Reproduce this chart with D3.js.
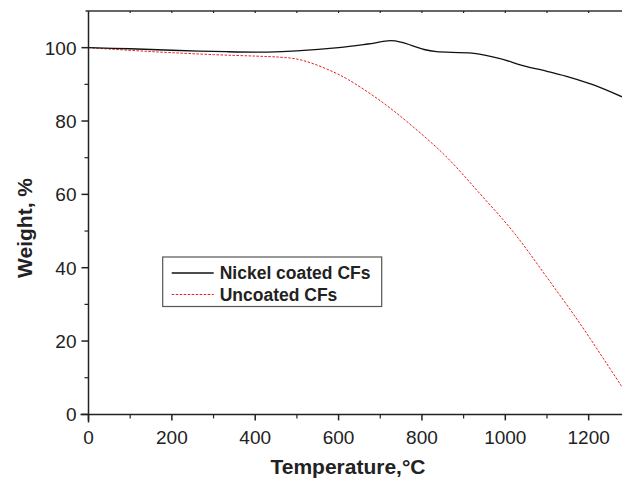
<!DOCTYPE html>
<html>
<head>
<meta charset="utf-8">
<script src="https://cdn.jsdelivr.net/npm/d3@7"></script>
<style>
body { margin: 0; background: white; }
text { font-family: "Liberation Sans", Arial, sans-serif; }
</style>
</head>
<body>
<div id="chart"></div>
<script>
// TGA curves
var nickelTemp = [0, 100, 200, 330, 430, 500, 600, 670, 725, 750, 805, 835, 920, 985, 1040, 1105, 1155, 1210, 1280];
var nickelWeight = [100, 99.7, 99.3, 98.9, 98.8, 99.1, 100, 101, 101.9, 101.5, 99.5, 98.9, 98.5, 97.1, 95.2, 93.4, 91.9, 89.9, 86.6];
var uncoatedTemp = [0, 140, 300, 400, 460, 500, 540, 587, 623, 704, 779, 859, 939, 1019, 1099, 1179, 1243, 1280];
var uncoatedWeight = [100, 99.0, 98.1, 97.7, 97.4, 96.9, 95.6, 93.4, 91.3, 85.2, 78.4, 70.2, 60.2, 49.8, 37.5, 24.8, 13.9, 7.5];
var xTicks = [0, 200, 400, 600, 800, 1000, 1200];
var yTicks = [0, 20, 40, 60, 80, 100];
var seriesNames = ["Nickel coated CFs", "Uncoated CFs"];

var width = 622, height = 479;
var svg = d3.select("#chart").append("svg")
	.attr("width", width)
	.attr("height", height);

var x = d3.scaleLinear().domain([0, 1280]).range([88.5, 622]);
var y = d3.scaleLinear().domain([0, 110]).range([414.4, 11]);

// bottom axis, major + minor
var xAxis = svg.append("g").attr("transform", "translate(0," + y(0) + ")");
xAxis.append("line")
	.attr("x1", x(0) - 8).attr("x2", width)
	.attr("stroke", "#222").attr("stroke-width", 1.5);
xAxis.selectAll(".minor").data(d3.range(100, 1300, 200)).enter().append("line")
	.attr("x1", function(d){ return x(d); }).attr("x2", function(d){ return x(d); })
	.attr("y1", 0).attr("y2", 4)
	.attr("stroke", "#222").attr("stroke-width", 1.2);
xAxis.selectAll(".major").data(xTicks).enter().append("line")
	.attr("x1", function(d){ return x(d); }).attr("x2", function(d){ return x(d); })
	.attr("y1", 0).attr("y2", 6)
	.attr("stroke", "#222").attr("stroke-width", 1.5);
xAxis.selectAll(".lbl").data(xTicks).enter().append("text")
	.attr("x", function(d){ return x(d); })
	.attr("y", 29.5)
	.attr("text-anchor", "middle")
	.attr("font-size", "19px")
	.attr("fill", "#222")
	.text(function(d){ return d; });

// left axis
var yAxis = svg.append("g").attr("transform", "translate(" + x(0) + ",0)");
yAxis.append("line")
	.attr("y1", y(110)).attr("y2", y(0) + 8)
	.attr("stroke", "#222").attr("stroke-width", 1.5);
yAxis.selectAll(".minor").data(d3.range(10, 110, 20)).enter().append("line")
	.attr("y1", function(d){ return y(d); }).attr("y2", function(d){ return y(d); })
	.attr("x1", 0).attr("x2", -4)
	.attr("stroke", "#222").attr("stroke-width", 1.2);
yAxis.selectAll(".major").data(yTicks).enter().append("line")
	.attr("y1", function(d){ return y(d); }).attr("y2", function(d){ return y(d); })
	.attr("x1", 0).attr("x2", -7)
	.attr("stroke", "#222").attr("stroke-width", 1.5);
yAxis.selectAll(".lbl").data(yTicks).enter().append("text")
	.attr("x", -12)
	.attr("y", function(d){ return y(d) + 7; })
	.attr("text-anchor", "end")
	.attr("font-size", "19px")
	.attr("fill", "#222")
	.text(function(d){ return d; });

// top frame with small inward ticks
var topAxis = svg.append("g").attr("transform", "translate(0," + y(110) + ")");
topAxis.append("line")
	.attr("x1", x(0) - 3).attr("x2", width)
	.attr("stroke", "#333").attr("stroke-width", 1.5);
topAxis.selectAll(".tk").data(d3.range(100, 1300, 100)).enter().append("line")
	.attr("x1", function(d){ return x(d); }).attr("x2", function(d){ return x(d); })
	.attr("y1", 0).attr("y2", 2)
	.attr("stroke", "#222").attr("stroke-width", 1.2);

// axis titles
svg.append("text")
	.attr("x", 348)
	.attr("y", 474)
	.attr("text-anchor", "middle")
	.attr("font-size", "21px")
	.attr("font-weight", "bold")
	.attr("fill", "#222")
	.text("Temperature,°C");

svg.append("text")
	.attr("transform", "translate(32,228) rotate(-90)")
	.attr("text-anchor", "middle")
	.attr("font-size", "21px")
	.attr("font-weight", "bold")
	.attr("fill", "#222")
	.text("Weight, %");

// curves
var line = d3.line()
	.x(function(d){ return x(d[0]); })
	.y(function(d){ return y(d[1]); })
	.curve(d3.curveCatmullRom.alpha(0.5));

var nickel = d3.zip(nickelTemp, nickelWeight);
var uncoated = d3.zip(uncoatedTemp, uncoatedWeight);

svg.append("path")
	.datum(uncoated)
	.attr("d", line)
	.attr("fill", "none")
	.attr("stroke", "#e8231e")
	.attr("stroke-width", 1)
	.attr("stroke-dasharray", "2.5,1.5");

svg.append("path")
	.datum(nickel)
	.attr("d", line)
	.attr("fill", "none")
	.attr("stroke", "#111")
	.attr("stroke-width", 1.3);

// legend
var legend = svg.append("g").attr("transform", "translate(162.7,257)");
legend.append("rect")
	.attr("width", 219)
	.attr("height", 49.5)
	.attr("fill", "white")
	.attr("stroke", "#555")
	.attr("stroke-width", 1.2);
var styles = [{stroke: "#111", dash: null, w: 1.3}, {stroke: "#e8231e", dash: "2.5,1.5", w: 1}];
legend.selectAll(".item").data(seriesNames).enter().append("g")
	.each(function(d, i){
		var g = d3.select(this).attr("transform", "translate(0," + (16 + i * 21.5) + ")");
		g.append("line")
			.attr("x1", 9).attr("x2", 51)
			.attr("stroke", styles[i].stroke)
			.attr("stroke-width", styles[i].w)
			.attr("stroke-dasharray", styles[i].dash);
		g.append("text")
			.attr("x", 57)
			.attr("y", 6)
			.attr("font-size", "17.5px")
			.attr("font-weight", "bold")
			.attr("fill", "#222")
			.text(d);
	});
</script>
</body>
</html>
